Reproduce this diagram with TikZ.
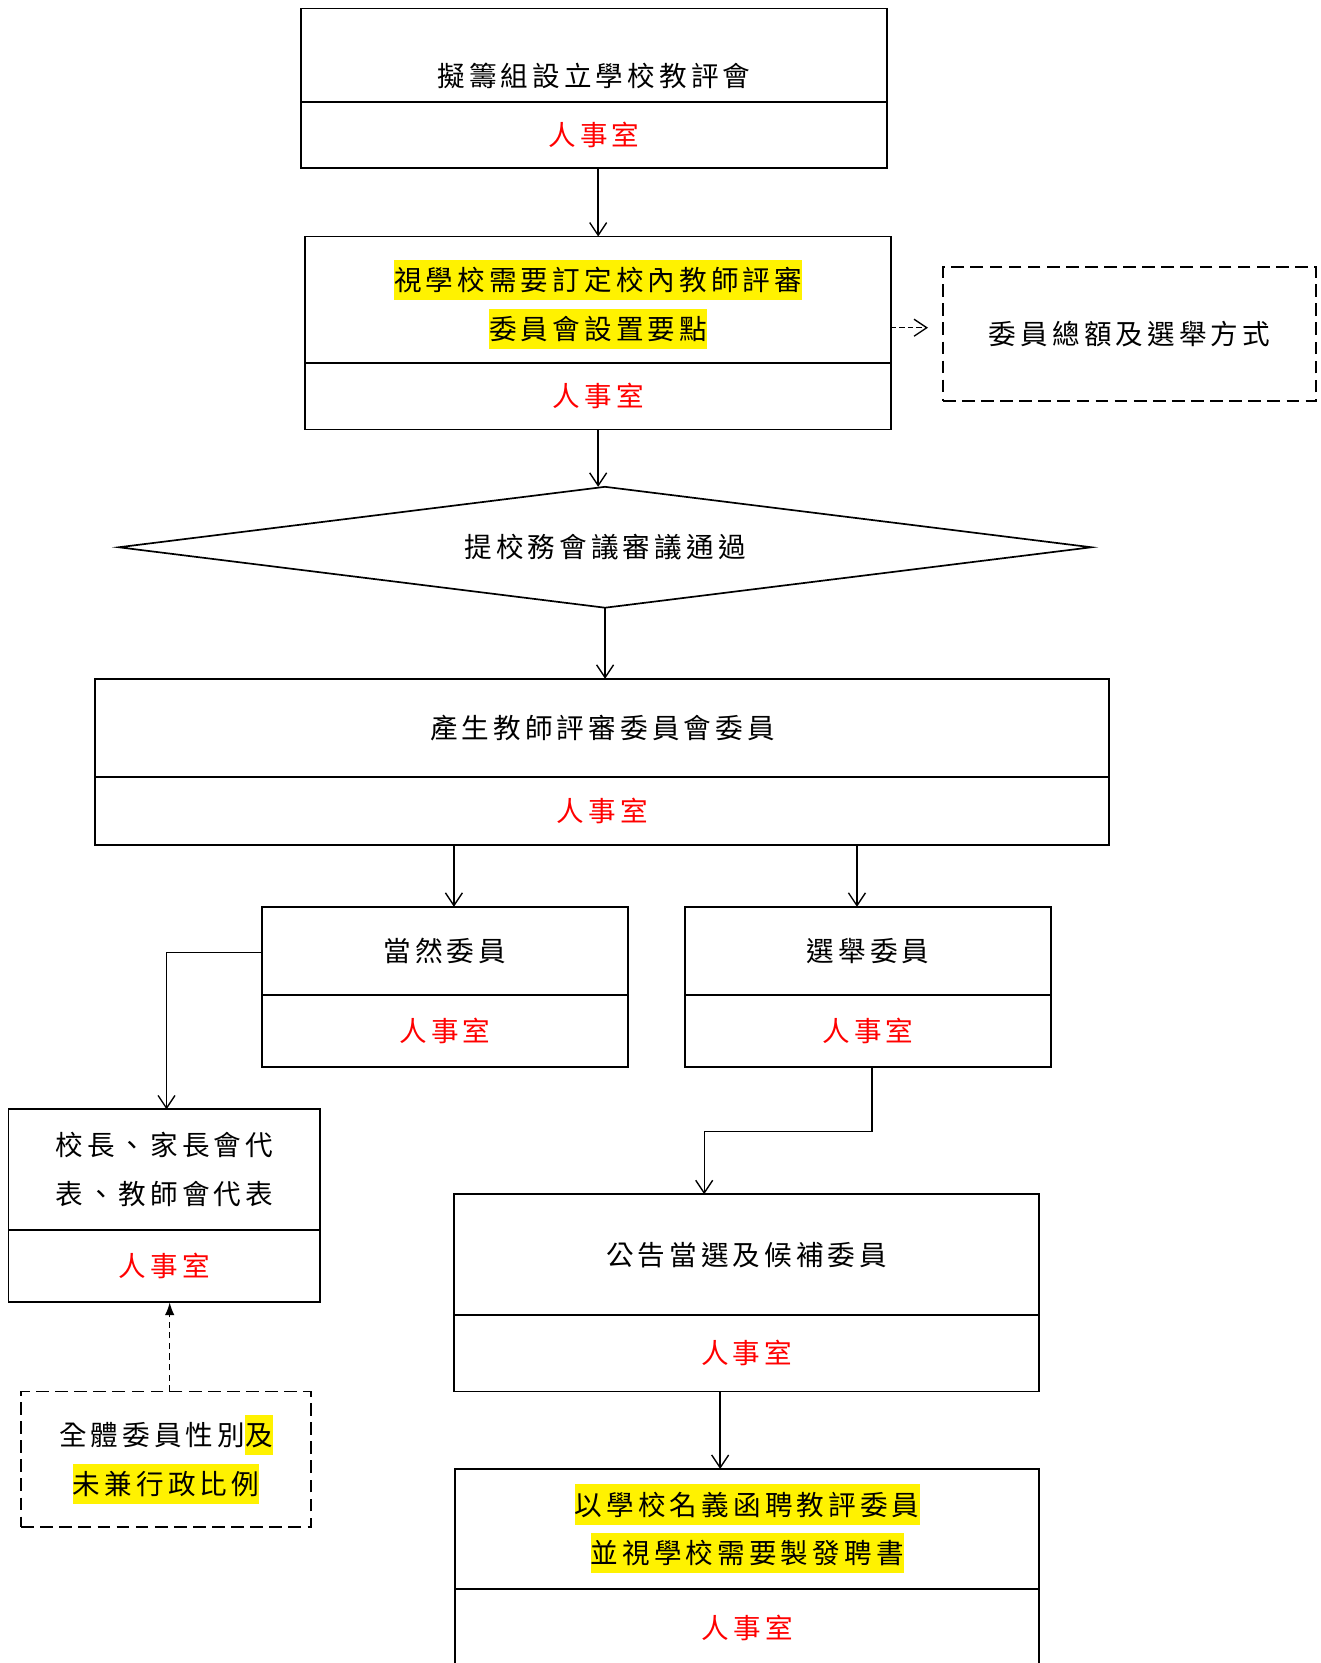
\documentclass[tikz,border=0pt]{standalone}
\usepackage{fontspec}
\usepackage{xcolor}
\newfontfamily\tcfont{Noto Sans CJK TC}[LetterSpace=15]
\usetikzlibrary{positioning,shapes.geometric,arrows.meta}
\newcommand\hilite[1]{{\setlength\fboxsep{0pt}\colorbox{yellow}{\rule[-9pt]{0pt}{38pt}#1}}}
\tikzset{
  box/.style={draw,line width=1.8pt,outer sep=0pt,inner sep=0pt,align=center,font=\tcfont\fontsize{26}{46}\selectfont},
  redbox/.style={box,text=red},
  dbox/.style={box,line width=1.6pt,dash pattern=on 12pt off 6pt},
  arr/.style={-{Straight Barb[length=12pt,width=16pt]},line width=1.3pt},
  darr/.style={-{Latex[length=12pt,width=9pt]},line width=1.3pt,dash pattern=on 6pt off 4pt},
}
\begin{document}
\begin{tikzpicture}[x=1pt,y=1pt]
\useasboundingbox (0,0) rectangle (1245,-1568);
\node[box,minimum width=552,minimum height=88,text height=74,text depth=14](b1)at(560,-52){擬籌組設立學校教評會};
\node[redbox,minimum width=552,minimum height=62,below=0pt of b1](b1r){人事室};
\node[box,minimum width=552,minimum height=119](b2)at(564,-282.5){\rule{0pt}{38pt}\hilite{視學校需要訂定校內教師評審}\\\hilite{委員會設置要點}};
\node[redbox,minimum width=552,minimum height=63,below=0pt of b2](b2r){人事室};
\node[dbox,minimum width=352,minimum height=126](bx)at(1065,-315){委員總額及選舉方式};
\node[box,diamond,line width=1.6pt,shape aspect=8,minimum width=917,minimum height=114](dia)at(570.5,-516){提校務會議審議通過};
\node[box,minimum width=956,minimum height=93](b3)at(568,-686.5){產生教師評審委員會委員};
\node[redbox,minimum width=956,minimum height=64,below=0pt of b3](b3r){人事室};
\node[box,minimum width=345,minimum height=83](b4)at(419.5,-896.5){當然委員};
\node[redbox,minimum width=345,minimum height=68,below=0pt of b4](b4r){人事室};
\node[box,minimum width=345,minimum height=83](b5)at(818.5,-896.5){選舉委員};
\node[redbox,minimum width=345,minimum height=68,below=0pt of b5](b5r){人事室};
\node[box,minimum width=294,minimum height=114](b6)at(155,-1103){校長、家長會代\\表、教師會代表};
\node[redbox,minimum width=294,minimum height=68,below=0pt of b6](b6r){人事室};
\node[dbox,minimum width=273,minimum height=128](b7)at(156.5,-1376){全體委員性別\hilite{及}\\\hilite{未兼行政比例}};
\node[box,minimum width=552,minimum height=114](b8)at(704,-1183){公告當選及候補委員};
\node[redbox,minimum width=552,minimum height=72,below=0pt of b8](b8r){人事室};
\node[box,minimum width=551,minimum height=113](b9)at(704.5,-1441.5){\hilite{以學校名義函聘教評委員}\\\hilite{並視學校需要製發聘書}};
\node[redbox,minimum width=551,minimum height=74,below=0pt of b9](b9r){人事室};
\draw[arr] (b1r.south -| b2.north) -- (b2.north);
\draw[arr] (b2r.south) -- (b2r.south |- dia.north);
\draw[arr] (dia.south) -- (dia.south |- b3.north);
\coordinate (sx) at ([shift={(-14,6)}]bx.west);
\draw[arr,dash pattern=on 5pt off 3pt] (b2.east |- sx) -- (sx);
\coordinate (s4) at ([xshift=8.5]b4.north);
\draw[arr] (s4 |- b3r.south) -- (s4);
\coordinate (s5) at ([xshift=-10.5]b5.north);
\draw[arr] (s5 |- b3r.south) -- (s5);
\draw[arr] ([yshift=-1.5]b4.west) -| ([xshift=2]b6.north);
\coordinate (s7) at ([xshift=3.5]b7.north);
\draw[darr] (s7) -- (s7 |- b6r.south);
\coordinate (s8) at ([xshift=-40]b8.north);
\draw[arr] ([xshift=3.5]b5r.south) -- ++(0,-61) -| (s8);
\coordinate (s9) at ([xshift=-25.5]b9.north);
\draw[arr] (s9 |- b8r.south) -- (s9);
\end{tikzpicture}
\end{document}
